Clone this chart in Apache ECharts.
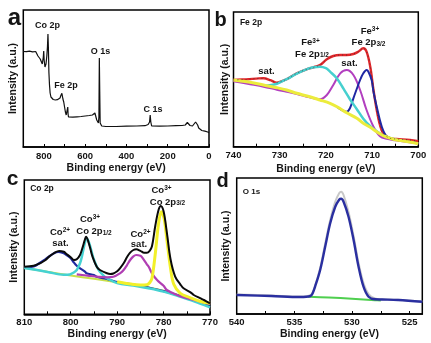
<!DOCTYPE html>
<html><head><meta charset="utf-8">
<script src="https://cdn.jsdelivr.net/npm/echarts@6/dist/echarts.min.js"></script>
<style>html,body{margin:0;padding:0;background:#fff}#c{width:431px;height:343px}</style>
</head><body><div id="c"></div>
<script>
// ---------- tick / label values ----------
const surveyTicks = [0,100,200,300,400,500,600,700,800,900];
const surveyLabels = [0,200,400,600,800];
const feTicks = [700,705,710,715,720,725,730,735,740];
const feLabels = [700,710,720,730,740];
const coTicks = [770,775,780,785,790,795,800,805,810];
const coLabels = [770,780,790,800,810];
const oTicks = [525,527.5,530,532.5,535,537.5,540];
const oLabels = [525,530,535,540];

// ---------- (a) survey spectrum [eV, intensity] ----------
const survey = [[900,95.5],[892,96.2],[885,95.3],[878,96.5],[870,95.8],[862,96],[855,95.2],[848,96],[840,95.5],[834,95],[829,91],[825,89.5],[818,88],[813,86.5],[808,83],[806,81],[803,90],[801,96],[799,87],[795,80],[793,78.5],[790,83],[786,91],[783,100],[780.5,113],[778.5,100],[776,75],[773,62],[770,54],[766,50],[761,49],[755,47.5],[745,47],[735,47.3],[728,47.5],[722,49],[718,51.5],[713,53.7],[711,52],[708,48],[704,45],[700,40],[696,35],[692,32],[688,30.5],[686,31],[684.5,40],[683,33],[681,30],[677,29.5],[672,29.3],[660,29.8],[640,30.2],[620,30.5],[600,31],[580,31.5],[565,32],[558,33],[553,34],[549,32],[544,27],[540,25],[536,24],[533.5,30],[531.5,89],[529.5,55],[527.5,24],[525,22],[520,21],[500,20.5],[450,20.5],[400,20.8],[350,21],[310,21.3],[295,22.5],[288,25],[285,32],[282,25],[278,21],[270,20.5],[240,20.8],[200,21],[160,21.3],[130,21.5],[115,22],[110,24],[105,24.5],[100,22.5],[92,21.5],[80,21],[72,22],[65,25],[60,27],[55,22],[50,19],[44,17],[35,16.5],[28,16.3],[20,15.8],[12,15.3],[6,15],[0,14.3]];

// ---------- (b) Fe 2p ----------
const feEnvelope = [[740,66.7],[737,67.5],[734.5,68.3],[733.5,68.4],[732,66.5],[730.6,64],[729,66.5],[728.5,67.5],[726.3,73.4],[724.1,77.5],[722.7,79.4],[721.3,81.7],[719.8,87.4],[718.4,90.7],[716.9,91.7],[715.5,91.7],[714.05,92.7],[713,95],[711.9,98.4],[711.2,95],[710.4,80],[709.7,56.7],[709,36.7],[708.3,21.7],[707.6,13.4],[706.1,8.4],[704.7,7.7],[701.8,6.7],[700,5.5]];
const feBackground = [[740,66.7],[736.4,64.4],[733.5,61.7],[730.6,59],[728.5,56.7],[726.3,53.4],[724.1,50.7],[721.3,46.7],[719.1,43.4],[717.6,40],[715.5,34],[713.3,28.4],[711.9,23.4],[710.4,19.4],[709,15],[707.6,11],[706.1,8.4],[704.7,6.7],[703.2,5.7],[700,3]];
const fe2p12 = [[733,61],[731.5,62],[730.6,63],[729.5,65.3],[728.5,67.5],[726.3,73],[724.1,77.5],[722.7,79.4],[721.3,80],[720,78.5],[719.1,75],[717.65,68.4],[716.2,58],[714.8,47.5],[713.3,37.5],[711.9,28],[710.4,20.5],[709,15.5],[707.6,11.3],[706,8.6],[704.7,6.9]];
const feSat = [[740,65.5],[736.4,62.5],[733.5,60],[730.6,57],[728.5,55],[726.3,52.7],[724.1,50],[722.7,48.4],[721.3,47.4],[719.8,51.7],[718.4,61.7],[716.9,73.4],[715.5,76.7],[714.05,71.7],[712.6,56.7],[711.2,36.7],[709.7,20],[708.3,10.5],[706.8,7.8],[705,6.5],[700,3.3]];
const fe2p32 = [[717.6,40],[716.9,37.5],[716.2,35.8],[715.5,35],[714.8,38.5],[714.05,48.4],[712.6,66.7],[711.9,73.4],[711.2,76.7],[710.8,75],[710.1,66.7],[709.7,55],[709,40],[707.9,20],[706.8,10],[705.4,7.4],[704,6.5],[700,3.5]];

// ---------- (c) Co 2p ----------
const coEnvelope = [[810,47.6],[808,48.5],[806.6,51],[805.5,54],[804.5,58.3],[803.5,61.5],[802.5,63.3],[801.5,62.5],[800.9,60.3],[800,57],[799.3,54.3],[798.7,55],[798,59.3],[797.5,66],[797,74],[796.7,77.6],[796.3,74],[795.8,66],[795.3,57.6],[794.4,47.6],[793.7,44.3],[792.2,41],[791.5,40.3],[790.8,40.8],[790,43],[789.4,46],[788.6,51],[787.9,57],[787.2,61.6],[786.5,64.3],[785.9,65],[785,63.5],[784.2,61.6],[783.6,61.6],[783,63.5],[782.5,68],[781.8,88],[781.1,104],[780.6,108.3],[780,103],[779.3,82],[778.5,55],[777.5,37.6],[776.4,30],[775.7,26],[774.2,22],[773.5,19.3],[772,16],[771.3,14.3],[770,11]];
const coBackground = [[810,46.6],[805,42.5],[800,38.8],[795,35.5],[790,32],[786.5,29.5],[783,26.5],[780,23.5],[777,19.5],[774,15.5],[772,12.5],[770,9.5]];
const coSat1 = [[810,46.8],[808,47.8],[806.6,51.6],[805.5,55],[804.5,58.3],[803.5,61.3],[802.7,62.3],[801.8,61.5],[800.9,59.3],[800,56],[799.45,52.6],[798.7,48.5],[798,46],[797,43],[796.6,41],[795,39.3],[794.4,37.6],[792,35],[790,32.3],[786.5,29.6],[783,26.4],[780,23.2],[777,19],[774,14.8],[772,11.5],[770,8.3]];
const co2p12 = [[810,46.4],[805,42.4],[801.5,39.5],[800.2,39.8],[799.45,41.5],[798.7,44.3],[798,51],[797.6,57.6],[796.9,72.6],[796.6,76],[796,71],[795.1,56],[794,44.3],[793,39],[792.2,36.2],[790,31.2],[786.5,28.8],[783,25.8],[780,22.7],[777,18.5],[774,14],[772,10.5],[770,7]];
const coSat2 = [[798.7,40],[796,38.5],[794,37.5],[792.2,37],[790.8,37.5],[789.4,41],[788.6,44.3],[787.9,49],[787.2,54.3],[786.5,58],[785.9,59.3],[785,58.6],[784.7,57.4],[783.6,50],[783.2,47.6],[782.5,41],[781.4,34.3],[780,28.5],[779.3,24.3],[777.1,19.3],[775,16],[772,12.6],[770,10.3]];
const co2p32 = [[790,32.6],[787,30.2],[785,29.3],[783.6,29.5],[783,31.5],[782.5,36],[781.8,60],[781.1,90],[780.5,102.6],[779.9,96],[779.3,75],[778.5,46],[777.8,30],[776.4,21],[774.2,16.5],[772,12.8],[770,11]];

// ---------- (d) O 1s ----------
const oData = [[540,19.5],[537,18.5],[534.5,17.5],[533.6,19],[533.2,28.5],[532.76,46],[532.33,70],[531.89,94],[531.46,112],[531.1,121],[530.94,122.3],[530.73,119],[530.3,102],[529.86,78],[529.43,51],[529,31],[528.56,20],[528,15.5],[527.4,14.8],[526,14.2],[523.9,12.5]];
const oFit = [[540,19],[537,18],[534.5,17],[533.6,18],[533.4,21],[533.2,27.3],[532.76,44],[532.33,67],[531.89,90.7],[531.46,107],[531.1,114.5],[530.94,115.3],[530.73,112.3],[530.3,97.3],[529.86,74],[529.43,47.3],[529,27.3],[528.56,17.3],[528,14.7],[527.4,14.5],[526,14],[523.9,12.2]];
const oBackground = [[533.8,17.3],[532,16.5],[530,15.2],[528,13.8],[527.5,13.5]];

// ---------- layout ----------
const FONT = 'Arial, "Liberation Sans", sans-serif';
const grids = [
  {left:23.3, top:10, width:185.7, height:137},
  {left:233.5, top:12, width:184.8, height:134.7},
  {left:24.3, top:180, width:185.7, height:134.3},
  {left:236.7, top:178, width:185.6, height:136}
].map(g => Object.assign(g, {show:true, borderColor:'#000', borderWidth:1.5, containLabel:false}));

function xAx(gi, min, max, ticks, labels, margin, nameGap){
  return {gridIndex:gi, type:'value', min:min, max:max, inverse:true,
    name:'Binding energy (eV)', nameLocation:'middle', nameGap:nameGap,
    nameTextStyle:{fontSize:10.5, fontWeight:'bold', color:'#151515', fontFamily:FONT},
    axisLine:{show:true, onZero:false, lineStyle:{color:'#000', width:1.5}},
    axisTick:{show:true, inside:true, length:3, customValues:ticks, lineStyle:{color:'#000', width:1}},
    axisLabel:{show:true, customValues:labels, margin:margin, fontSize:9.5, fontWeight:'bold', color:'#151515', fontFamily:FONT},
    splitLine:{show:false}};
}
function yAx(gi, max, nameGap){
  return {gridIndex:gi, type:'value', min:0, max:max,
    name:'Intensity (a.u.)', nameLocation:'middle', nameGap:nameGap, nameRotate:90,
    nameTextStyle:{fontSize:10.5, fontWeight:'bold', color:'#151515', fontFamily:FONT},
    axisLine:{show:false}, axisTick:{show:false}, axisLabel:{show:false}, splitLine:{show:false}};
}
function ln(gi, data, color, width, extra){
  return Object.assign({type:'line', xAxisIndex:gi, yAxisIndex:gi, data:data, showSymbol:false, symbol:'none',
    silent:true, animation:false, lineStyle:{color:color, width:width}}, extra||{});
}
function txt(x, y, text, size, extra){
  return Object.assign({type:'text', x:x, y:y, silent:true, style:{text:text, fill:'#151515',
    font:'bold '+size+'px '+FONT, align:'center', verticalAlign:'middle',
    rich:{sup:{fontSize:6.5, fontWeight:'bold', fontFamily:FONT, fill:'#151515', verticalAlign:'top'},
          sub:{fontSize:6.5, fontWeight:'bold', fontFamily:FONT, fill:'#151515', verticalAlign:'bottom'}}}}, extra||{});
}

const SM = 0.35;
const option = {
  backgroundColor:'#fff', animation:false,
  grid: grids,
  xAxis: [xAx(0,0,900,surveyTicks,surveyLabels,4,16), xAx(1,700,740,feTicks,feLabels,4,17),
          xAx(2,770,810,coTicks,coLabels,3,14), xAx(3,523.9,540,oTicks,oLabels,3.5,14.5)],
  yAxis: [yAx(0,137,5), yAx(1,134.7,3), yAx(2,134.3,5), yAx(3,136,5.5)],
  series: [
    ln(0, survey, '#111', 1.2),
    ln(1, feEnvelope, '#e3262a', 2.4, {smooth:SM}),
    ln(1, feSat, '#b23fbf', 2, {smooth:SM}),
    ln(1, fe2p32, '#1f27a3', 2, {smooth:SM}),
    ln(1, fe2p12, '#46d0cf', 2.5, {smooth:SM}),
    ln(1, feBackground, '#ecec3c', 3, {smooth:SM}),
    ln(1, feEnvelope, '#333', 0.9, {smooth:SM, lineStyle:{color:'#333', width:0.9, type:[1,3], opacity:0.8}}),
    ln(2, coBackground, '#c9e04a', 2, {smooth:SM}),
    ln(2, coSat1, '#202aa0', 2.2, {smooth:SM}),
    ln(2, co2p12, '#45d2d2', 2.5, {smooth:SM}),
    ln(2, coSat2, '#b03eb3', 2.2, {smooth:SM}),
    ln(2, co2p32, '#f2f02a', 3, {smooth:SM}),
    ln(2, coEnvelope, '#0a0a0a', 2, {smooth:SM}),
    ln(3, oData, '#c8c8c8', 2, {smooth:SM}),
    ln(3, oBackground, '#4fcf4f', 2, {smooth:SM}),
    ln(3, oFit, '#2a2fa0', 2.4, {smooth:SM})
  ],
  graphic: [
    txt(14.5, 18, 'a', 24),
    txt(220.5, 20, 'b', 20),
    txt(12.5, 179, 'c', 21),
    txt(222.5, 181.5, 'd', 20),
    txt(47.5, 26, 'Co 2p', 9),
    txt(66, 85.5, 'Fe 2p', 9),
    txt(100.5, 51.7, 'O 1s', 9),
    txt(153, 110, 'C 1s', 9),
    txt(251, 23, 'Fe 2p', 8.5),
    txt(266.5, 71.5, 'sat.', 9.5),
    txt(310.5, 42.5, 'Fe{sup|3+}', 9.5),
    txt(312, 54, 'Fe 2p{sub|1/2}', 9.5),
    txt(349.5, 63.5, 'sat.', 9.5),
    txt(370, 31, 'Fe{sup|3+}', 9.5),
    txt(368.5, 42.5, 'Fe 2p{sub|3/2}', 9.5),
    txt(42, 189, 'Co 2p', 8.5),
    txt(60, 232, 'Co{sup|2+}', 9.5),
    txt(60.5, 243.5, 'sat.', 9.5),
    txt(90, 219, 'Co{sup|3+}', 9.5),
    txt(94, 231.5, 'Co 2p{sub|1/2}', 9.5),
    txt(140.5, 234, 'Co{sup|2+}', 9.5),
    txt(139, 244, 'sat.', 9.5),
    txt(161.5, 190, 'Co{sup|3+}', 9.5),
    txt(167.5, 202, 'Co 2p{sub|3/2}', 9.5),
    txt(251.5, 191.5, 'O 1s', 8)
  ]
};
const chart = echarts.init(document.getElementById('c'), null, {renderer:'canvas', width:431, height:343});
chart.setOption(option);
</script>
</body></html>
